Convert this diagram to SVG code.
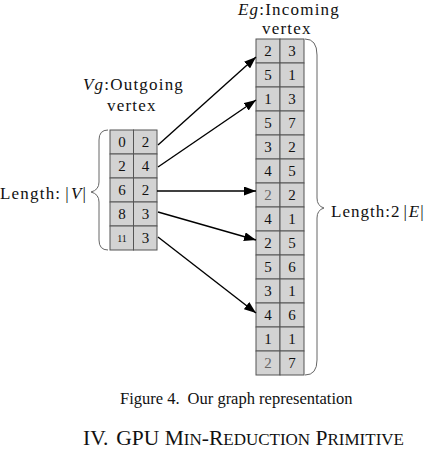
<svg xmlns="http://www.w3.org/2000/svg" width="427" height="452" viewBox="0 0 427 452" font-family="Liberation Serif, serif">
<style>
.cell{fill:#d3d3d3;stroke:#555;stroke-width:1}
.num{font-size:15px;fill:#111;text-anchor:middle}
.lbl{font-size:17px;fill:#111;letter-spacing:1.2px}
.it{font-style:italic}
.brace{fill:none;stroke:#666;stroke-width:1}
.edge{stroke:#000;stroke-width:1.4;fill:none;marker-end:url(#ah)}
.cap{fill:#111}
</style>
<defs>
<marker id="ah" markerWidth="12" markerHeight="9" refX="12" refY="4.5" orient="auto" markerUnits="userSpaceOnUse">
<path d="M0,0 L12,4.5 L0,9 Z" fill="#000"/>
</marker>
</defs>
<rect width="427" height="452" fill="#fff"/>

<g id="vg">
<text class="lbl" font-family="Liberation Serif, serif" x="83" y="90"><tspan class="it">Vg</tspan>:Outgoing</text>
<text class="lbl" font-family="Liberation Serif, serif" x="107" y="111">vertex</text>
<g id="vg-cells" font-family="Liberation Serif, serif">
<rect class="cell" x="110" y="130" width="23.5" height="24"/><rect class="cell" x="133.5" y="130" width="23.5" height="24"/>
<rect class="cell" x="110" y="154" width="23.5" height="24"/><rect class="cell" x="133.5" y="154" width="23.5" height="24"/>
<rect class="cell" x="110" y="178" width="23.5" height="24"/><rect class="cell" x="133.5" y="178" width="23.5" height="24"/>
<rect class="cell" x="110" y="202" width="23.5" height="24"/><rect class="cell" x="133.5" y="202" width="23.5" height="24"/>
<rect class="cell" x="110" y="226" width="23.5" height="24"/><rect class="cell" x="133.5" y="226" width="23.5" height="24"/>
<text class="num" x="122" y="147">0</text><text class="num" x="145.5" y="147">2</text>
<text class="num" x="122" y="171">2</text><text class="num" x="145.5" y="171">4</text>
<text class="num" x="122" y="195">6</text><text class="num" x="145.5" y="195">2</text>
<text class="num" x="122" y="219">8</text><text class="num" x="145.5" y="219">3</text>
<text class="num" x="122" y="242" style="font-size:10px">11</text><text class="num" x="145.5" y="243">3</text>
</g>
<path class="brace" d="M108,130 Q99,130 99,140 L99,182 Q99,190 91,192 Q99,194 99,202 L99,240 Q99,250 108,250"/>
<text class="lbl" font-family="Liberation Serif, serif" x="0" y="199">Length:<tspan dx="4">|</tspan><tspan class="it" dx="1">V</tspan>|</text>
</g>

<g id="eg">
<text class="lbl" font-family="Liberation Serif, serif" x="238" y="15"><tspan class="it">Eg</tspan>:Incoming</text>
<text class="lbl" font-family="Liberation Serif, serif" x="262" y="34">vertex</text>
<g id="eg-cells" font-family="Liberation Serif, serif">
<rect class="cell" x="256" y="39" width="24" height="24"/><rect class="cell" x="280" y="39" width="24" height="24"/>
<rect class="cell" x="256" y="63" width="24" height="24"/><rect class="cell" x="280" y="63" width="24" height="24"/>
<rect class="cell" x="256" y="87" width="24" height="24"/><rect class="cell" x="280" y="87" width="24" height="24"/>
<rect class="cell" x="256" y="111" width="24" height="24"/><rect class="cell" x="280" y="111" width="24" height="24"/>
<rect class="cell" x="256" y="135" width="24" height="24"/><rect class="cell" x="280" y="135" width="24" height="24"/>
<rect class="cell" x="256" y="159" width="24" height="24"/><rect class="cell" x="280" y="159" width="24" height="24"/>
<rect class="cell" x="256" y="183" width="24" height="24"/><rect class="cell" x="280" y="183" width="24" height="24"/>
<rect class="cell" x="256" y="207" width="24" height="24"/><rect class="cell" x="280" y="207" width="24" height="24"/>
<rect class="cell" x="256" y="231" width="24" height="24"/><rect class="cell" x="280" y="231" width="24" height="24"/>
<rect class="cell" x="256" y="255" width="24" height="24"/><rect class="cell" x="280" y="255" width="24" height="24"/>
<rect class="cell" x="256" y="279" width="24" height="24"/><rect class="cell" x="280" y="279" width="24" height="24"/>
<rect class="cell" x="256" y="303" width="24" height="24"/><rect class="cell" x="280" y="303" width="24" height="24"/>
<rect class="cell" x="256" y="327" width="24" height="24"/><rect class="cell" x="280" y="327" width="24" height="24"/>
<rect class="cell" x="256" y="351" width="24" height="24"/><rect class="cell" x="280" y="351" width="24" height="24"/>
<text class="num" x="268" y="56">2</text><text class="num" x="292" y="56">3</text>
<text class="num" x="268" y="80">5</text><text class="num" x="292" y="80">1</text>
<text class="num" x="268" y="104">1</text><text class="num" x="292" y="104">3</text>
<text class="num" x="268" y="128">5</text><text class="num" x="292" y="128">7</text>
<text class="num" x="268" y="152">3</text><text class="num" x="292" y="152">2</text>
<text class="num" x="268" y="176">4</text><text class="num" x="292" y="176">5</text>
<text class="num" x="268" y="200" style="fill:#666">2</text><text class="num" x="292" y="200">2</text>
<text class="num" x="268" y="224">4</text><text class="num" x="292" y="224">1</text>
<text class="num" x="268" y="248">2</text><text class="num" x="292" y="248">5</text>
<text class="num" x="268" y="272">5</text><text class="num" x="292" y="272">6</text>
<text class="num" x="268" y="296">3</text><text class="num" x="292" y="296">1</text>
<text class="num" x="268" y="320">4</text><text class="num" x="292" y="320">6</text>
<text class="num" x="268" y="344">1</text><text class="num" x="292" y="344">1</text>
<text class="num" x="268" y="368" style="fill:#666">2</text><text class="num" x="292" y="368">7</text>
</g>
<path class="brace" d="M305,39 Q317,39 317,55 L317,198 Q317,206 324,208 Q317,210 317,218 L317,360 Q317,375 305,375"/>
<text class="lbl" font-family="Liberation Serif, serif" x="331" y="217" style="letter-spacing:1px">Length:2<tspan dx="3">|</tspan><tspan class="it" dx="1">E</tspan>|</text>
</g>

<g id="connectors">
<line class="edge" x1="158" y1="145" x2="256" y2="57"/>
<line class="edge" x1="158" y1="167" x2="256" y2="100"/>
<line class="edge" x1="157" y1="191" x2="256" y2="191"/>
<line class="edge" x1="158" y1="212" x2="256" y2="240"/>
<line class="edge" x1="158" y1="237" x2="256" y2="313"/>
</g>

<text class="cap" font-family="Liberation Serif, serif" x="120" y="404" style="font-size:16.5px">Figure 4.<tspan dx="8">Our graph representation</tspan></text>
<text class="cap" font-family="Liberation Serif, serif" x="83" y="445" style="font-size:21.5px">IV.<tspan dx="8">GPU M</tspan><tspan style="font-size:17px">IN</tspan>-R<tspan style="font-size:17px">EDUCTION</tspan> P<tspan style="font-size:17px">RIMITIVE</tspan></text>
</svg>
